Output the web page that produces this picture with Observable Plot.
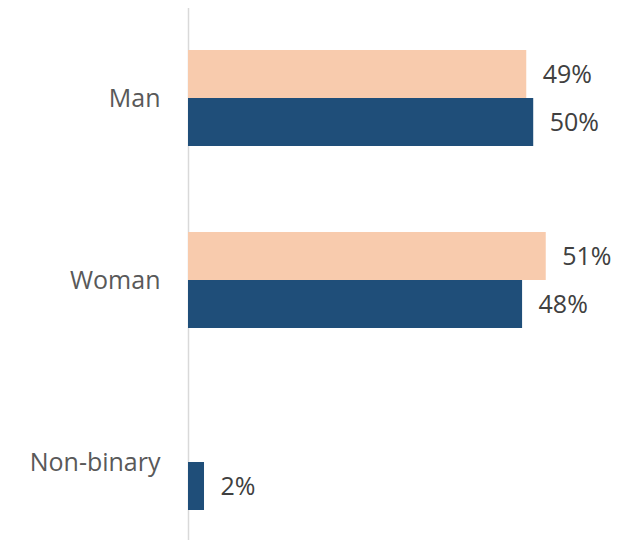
<!DOCTYPE html>
<html>
<head>
<meta charset="utf-8">
<script src="https://cdn.jsdelivr.net/npm/d3@7"></script>
<script src="https://cdn.jsdelivr.net/npm/@observablehq/plot@0.6"></script>
<style>
  html, body { margin: 0; padding: 0; background: #ffffff; }
  #chart svg { display: block; }
</style>
</head>
<body>
<div id="chart"></div>
<script>
const categories = ["Man", "Woman", "Non-binary"];
const seriesNames = ["Series 1", "Series 2"];
const series1Values = [48.6, 51.4, null];
const series2Values = [49.6, 48.0, 2.3];
const seriesColors = ["#F8CBAD", "#1F4E79"];

const data1 = categories.map((c, i) => ({category: c, series: seriesNames[0], value: series1Values[i]})).filter(d => d.value != null);
const data2 = categories.map((c, i) => ({category: c, series: seriesNames[1], value: series2Values[i]})).filter(d => d.value != null);
const fmt = d => `${Math.round(d.value)}%`;

const chart = Plot.plot({
  width: 641,
  height: 552,
  marginLeft: 188,
  marginRight: 1.3,
  marginTop: 8,
  marginBottom: 12,
  style: {fontFamily: "'Open Sans', sans-serif", fontSize: "25px", color: "#595959", background: "#ffffff"},
  x: {domain: [0, 64.9], axis: null},
  y: {domain: categories, paddingInner: 0.475, paddingOuter: 0.1928, align: 0.5816, label: null, tickSize: 0, tickPadding: 28},
  marks: [
    Plot.ruleX([0], {stroke: "#d9d9d9", strokeWidth: 1.5}),
    Plot.barX(data1, {x: "value", y: "category", fill: seriesColors[0], insetBottom: 48}),
    Plot.barX(data2, {x: "value", y: "category", fill: seriesColors[1], insetTop: 48}),
    Plot.text(data1, {x: "value", y: "category", text: fmt, dx: 16, dy: -24, textAnchor: "start", fill: "#404040", fontSize: 25}),
    Plot.text(data2, {x: "value", y: "category", text: fmt, dx: 16, dy: 24, textAnchor: "start", fill: "#404040", fontSize: 25})
  ]
});
document.getElementById("chart").appendChild(chart);
</script>
</body>
</html>
